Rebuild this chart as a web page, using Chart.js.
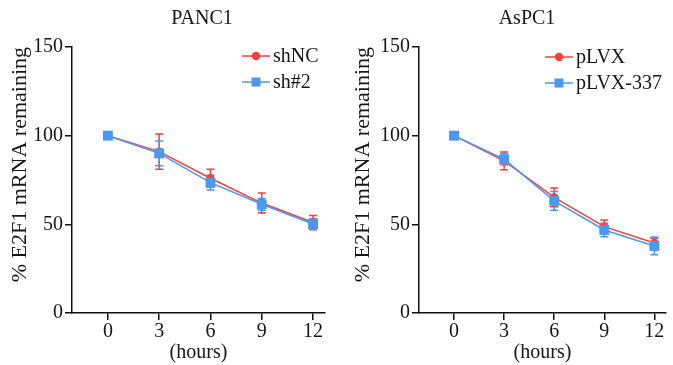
<!DOCTYPE html>
<html>
<head>
<meta charset="utf-8">
<script src="https://cdn.jsdelivr.net/npm/chart.js@4.4.1/dist/chart.umd.min.js"></script>
<style>
  body { margin: 0; background: #fff; }
  #wrap { position: relative; width: 673px; height: 365px; }
  .panel { position: absolute; top: 0; }
</style>
</head>
<body>
<div id="wrap">
  <canvas id="panc1" class="panel" style="left:0" width="340" height="365"></canvas>
  <canvas id="aspc1" class="panel" style="left:340px" width="333" height="365"></canvas>
</div>
<script>
// values (mean and error half-width)
const hours = [0, 3, 6, 9, 12];
const xTicks = [0, 3, 6, 9, 12];
const yTicks = [0, 50, 100, 150];

const shNC = [100, 91, 76, 62, 51];
const shNC_err = [0, 10, 5, 5.6, 4];
const sh2 = [100, 90, 73.5, 61.3, 50.2];
const sh2_err = [0, 7, 4.2, 3.3, 3];

const pLVX = [100, 85.8, 65.2, 48.7, 39.5];
const pLVX_err = [0, 5, 5.3, 3.7, 2.7];
const pLVX337 = [100, 86.7, 63.2, 46.8, 37.8];
const pLVX337_err = [0, 3.3, 5.3, 3.8, 5];

const red = 'rgb(250, 62, 62)';
const blue = 'rgb(75, 152, 240)';
const textColor = '#161616';
const axisColor = '#111';
const serif = '"Liberation Serif", "Times New Roman", serif';

// draws the error bars under the lines, red first then blue
const errorBars = {
  id: 'errorBars',
  beforeDatasetsDraw(chart) {
    const ctx = chart.ctx;
    const xs = chart.scales.x, ys = chart.scales.y;
    chart.data.datasets.forEach(ds => {
      ctx.save();
      ctx.strokeStyle = ds.borderColor;
      ctx.lineWidth = 1.5;
      ds.data.forEach((p, i) => {
        const e = ds.err[i];
        if (!e) return;
        const px = xs.getPixelForValue(p.x);
        const top = ys.getPixelForValue(p.y + e);
        const bot = ys.getPixelForValue(p.y - e);
        ctx.beginPath();
        ctx.moveTo(px, top); ctx.lineTo(px, bot);
        ctx.moveTo(px - 4, top); ctx.lineTo(px + 4, top);
        ctx.moveTo(px - 4, bot); ctx.lineTo(px + 4, bot);
        ctx.stroke();
      });
      ctx.restore();
    });
  }
};

// panel title and the little legend in the top right
const panelDecor = {
  id: 'panelDecor',
  afterDraw(chart, args, opts) {
    const ctx = chart.ctx;
    ctx.save();
    ctx.fillStyle = textColor;
    ctx.font = '20px ' + serif;
    ctx.textAlign = 'center';
    ctx.textBaseline = 'middle';
    ctx.fillText(opts.title, opts.titleX, opts.titleY);

    ctx.textAlign = 'left';
    chart.data.datasets.forEach((ds, i) => {
      const ly = opts.legendY + i * opts.legendGap;
      const x0 = opts.legendX, x1 = opts.legendX + 28, cx = (x0 + x1) / 2;
      ctx.strokeStyle = ds.borderColor;
      ctx.fillStyle = ds.borderColor;
      ctx.lineWidth = 1.5;
      ctx.beginPath();
      ctx.moveTo(x0, ly); ctx.lineTo(x1, ly);
      ctx.stroke();
      if (ds.pointStyle === 'rect') {
        ctx.fillRect(cx - 4.5, ly - 4.5, 9, 9);
      } else {
        ctx.beginPath();
        ctx.arc(cx, ly, 4.2, 0, Math.PI * 2);
        ctx.fill();
      }
      ctx.fillStyle = textColor;
      ctx.fillText(ds.label, x1 + 3, ly + 1);
    });
    ctx.restore();
  }
};

function series(label, vals, err, color, style, radius, order) {
  return {
    label: label,
    data: hours.map((h, i) => ({ x: h, y: vals[i] })),
    err: err,
    borderColor: color,
    backgroundColor: color,
    borderWidth: 1.5,
    pointStyle: style,
    pointRadius: radius,
    pointBorderWidth: 0,
    tension: 0,
    order: order
  };
}

function makePanel(id, datasets, yWidth, padRight, yTitlePad, decor) {
  new Chart(document.getElementById(id), {
    type: 'line',
    data: { datasets: datasets },
    plugins: [errorBars, panelDecor],
    options: {
      responsive: false,
      animation: false,
      layout: { padding: { top: 47, right: padRight, left: 0, bottom: 0 } },
      plugins: {
        legend: { display: false },
        tooltip: { enabled: false },
        panelDecor: decor
      },
      scales: {
        x: {
          type: 'linear',
          min: -2.1,
          max: 12.7,
          afterBuildTicks: s => { s.ticks = xTicks.map(v => ({ value: v })); },
          afterFit: s => { s.height = 52; },
          grid: { drawOnChartArea: false, drawTicks: true, tickLength: 7, color: axisColor, lineWidth: 1.5 },
          border: { display: true, color: axisColor, width: 1.5 },
          ticks: { color: textColor, font: { family: serif, size: 20 }, padding: 0, maxRotation: 0, autoSkip: false },
          title: { display: true, text: '(hours)', color: textColor, font: { family: serif, size: 20 }, padding: { top: 0, bottom: 0 } }
        },
        y: {
          min: 0,
          max: 150,
          afterBuildTicks: s => { s.ticks = yTicks.map(v => ({ value: v })); },
          afterFit: s => { s.width = yWidth; },
          grid: { drawOnChartArea: false, drawTicks: true, tickLength: 7, color: axisColor, lineWidth: 1.5 },
          border: { display: true, color: axisColor, width: 1.5 },
          ticks: { color: textColor, font: { family: serif, size: 20 }, padding: 2 },
          title: { display: true, text: '% E2F1 mRNA remaining', align: 'end', color: textColor, font: { family: serif, size: 22 }, padding: { top: yTitlePad, bottom: 0 } }
        }
      }
    }
  });
}

makePanel('panc1', [
  series('shNC', shNC, shNC_err, red, 'circle', 4.2, 1),
  series('sh#2', sh2, sh2_err, blue, 'rect', 7, 0)
], 72, 15, 7, { title: 'PANC1', titleX: 202, titleY: 19, legendX: 242, legendY: 56, legendGap: 26 });

makePanel('aspc1', [
  series('pLVX', pLVX, pLVX_err, red, 'circle', 4.2, 1),
  series('pLVX-337', pLVX337, pLVX337_err, blue, 'rect', 7, 0)
], 79, 5, 10, { title: 'AsPC1', titleX: 187, titleY: 19, legendX: 205, legendY: 57, legendGap: 26 });
</script>
</body>
</html>
